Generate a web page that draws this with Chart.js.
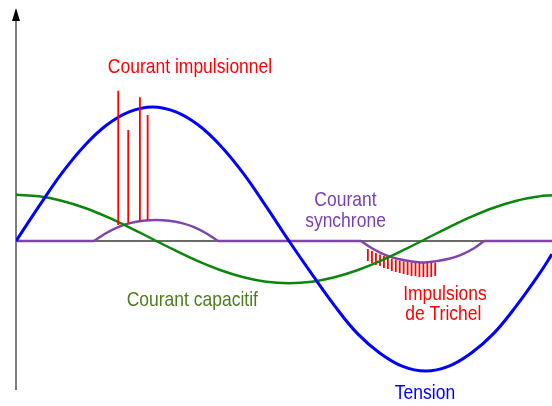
<!DOCTYPE html>
<html>
<head>
<meta charset="utf-8">
<script src="https://cdn.jsdelivr.net/npm/chart.js@4.4.1/dist/chart.umd.min.js"></script>
<style>
    html, body { margin: 0; padding: 0; background: #fff; }
    #wrap { width: 552px; height: 406px; }
</style>
</head>
<body>
<div id="wrap"><canvas id="myChart" width="552" height="406"></canvas></div>
<script>
// phase angle (degrees) along the horizontal axis
const phase = [0, 15, 30, 45, 60, 75, 90, 105, 120, 135, 150, 165, 180,
    195, 210, 225, 240, 255, 270, 285, 300, 315, 330, 345, 353.4];

// Tension (blue)
const tensionY = [0, 26, 51, 72, 88, 98, 101.5, 98, 88, 72, 51, 26, 0,
    -25, -49, -70, -85, -95, -98.5, -95, -85, -70, -49, -25, -10];

// Courant capacitif (green)
const capacitifY = [35, 33.8, 30.5, 25.2, 18.3, 10.2, 1.5, -7.2, -15.3, -22.2, -27.5, -30.9, -32,
    -30.9, -27.5, -22.2, -15.3, -7.2, 1.5, 10.2, 18.3, 25.2, 30.5, 33.8, 34.7];

// Courant synchrone (purple) - the two arcs, flat at 0 elsewhere
const synchroX = [51.4, 58.7, 67.3, 75.2, 83.7, 92.3, 100.9, 109.4, 117.4, 125.9, 133.2,
    227.5, 234.7, 243.3, 251.2, 259.8, 268.3, 276.9, 285.5, 293.4, 302, 308.6];
const synchroY = [0, 5.5, 10.5, 13.5, 15.3, 15.9, 15.3, 13.5, 10.5, 5.5, 0,
    0, -5.5, -10.5, -13.5, -15.3, -16.4, -15.3, -13.5, -10.5, -5.5, 0];

// Courant impulsionnel (red spikes)
const impulsX = [67.4, 74.0, 81.7, 86.8];
const impulsBase = [12.1, 13.6, 15.4, 15.9];
const impulsTop = [113.9, 84, 108.9, 95.5];

// Impulsions de Trichel (short red lines)
const trichelX = [232, 234.7, 237.3, 240, 242.6, 245.2, 247.8, 250.4, 253, 255.6,
    258.2, 260.8, 263.4, 266, 268.6, 271.2, 273.8, 276.4];
const trichelTop = [-6.1, -7.6, -9.1, -10.2, -11.4, -12.5, -13.6, -14.4, -15.2, -15.5,
    -15.9, -16.3, -16.7, -16.7, -16.7, -16.7, -16.7, -16.7];
const trichelBottom = [-15.2, -16.7, -18.2, -18.9, -20.5, -21.2, -22.7, -23.5, -24.2, -25,
    -25.8, -26.5, -26.5, -27.3, -27.3, -27.3, -27.3, -26.5];

const xMax = phase[phase.length - 1];

function curve(xs, ys) {
    return xs.map(function (x, i) { return { x: x, y: ys[i] }; });
}

// vertical strokes separated by gaps
function strokes(xs, lo, hi) {
    const pts = [];
    xs.forEach(function (x, i) {
        pts.push({ x: x, y: lo[i] }, { x: x, y: hi[i] }, { x: x, y: null });
    });
    return pts;
}

// arcs, with a gap where one arc ends and the next starts
const arcPts = [];
synchroX.forEach(function (x, i) {
    if (i > 0 && synchroY[i] === 0 && synchroY[i - 1] === 0) {
        arcPts.push({ x: (x + synchroX[i - 1]) / 2, y: null });
    }
    arcPts.push({ x: x, y: synchroY[i] });
});

// flat parts: 0 -> start1, end1 -> start2, end2 -> xMax
const zeros = synchroX.filter(function (x, i) { return synchroY[i] === 0; });
const bounds = [0].concat(zeros).concat([xMax]);
const flatSegs = [];
for (let i = 0; i < bounds.length; i += 2) {
    flatSegs.push({ x: bounds[i], y: 0 }, { x: bounds[i + 1], y: 0 }, { x: bounds[i + 1], y: null });
}

const labelPlugin = {
    id: 'labels',
    beforeDatasetsDraw: function (chart) {
        // axes with arrow
        const ctx = chart.ctx;
        const area = chart.chartArea;
        const x0 = chart.scales.x.getPixelForValue(0);
        const y0 = chart.scales.y.getPixelForValue(0);
        ctx.save();
        ctx.strokeStyle = '#3a3a3a';
        ctx.lineWidth = 1.3;
        ctx.beginPath();
        ctx.moveTo(x0, area.top + 12);
        ctx.lineTo(x0, area.bottom);
        ctx.moveTo(x0, y0);
        ctx.lineTo(area.right, y0);
        ctx.stroke();
        ctx.fillStyle = '#000';
        ctx.beginPath();
        ctx.moveTo(x0, area.top);
        ctx.lineTo(x0 - 4, area.top + 13);
        ctx.lineTo(x0 + 4, area.top + 13);
        ctx.closePath();
        ctx.fill();
        ctx.restore();
    },
    afterDraw: function (chart, args, opts) {
        const ctx = chart.ctx;
        ctx.save();
        ctx.font = '17.5px "Liberation Sans", Arial, sans-serif';
        ctx.textAlign = 'center';
        ctx.textBaseline = 'alphabetic';
        opts.items.forEach(function (it) {
            ctx.save();
            ctx.fillStyle = it.color;
            ctx.translate(it.x, it.y);
            ctx.scale(1, 1.15);
            ctx.fillText(it.text, 0, 0);
            ctx.restore();
        });
        ctx.restore();
    }
};

const ctx1 = document.getElementById('myChart').getContext('2d');
const config = {
    type: 'line',
    data: {
        datasets: [{
            label: 'Courant impulsionnel',
            data: strokes(impulsX, impulsBase, impulsTop),
            borderColor: '#ff0000',
            borderWidth: 1.8,
            tension: 0
        }, {
            label: 'Tension',
            data: curve(phase, tensionY),
            borderColor: '#0000ff',
            borderWidth: 3,
            tension: 0.4
        }, {
            label: 'Courant capacitif',
            data: curve(phase, capacitifY),
            borderColor: '#0a870a',
            borderWidth: 2.5,
            tension: 0.4
        }, {
            label: 'Courant synchrone',
            data: arcPts,
            borderColor: '#7f45a8',
            borderWidth: 2.5,
            cubicInterpolationMode: 'monotone'
        }, {
            label: 'Courant synchrone (0)',
            data: flatSegs,
            borderColor: '#7f45a8',
            borderWidth: 2.5,
            tension: 0
        }, {
            label: 'Impulsions de Trichel',
            data: strokes(trichelX, trichelTop, trichelBottom),
            borderColor: '#ff0000',
            borderWidth: 1.8,
            tension: 0
        }]
    },
    options: {
        responsive: false,
        animation: false,
        devicePixelRatio: 1,
        layout: { padding: { left: 16, right: 0, top: 8, bottom: 16 } },
        elements: { point: { radius: 0 } },
        scales: {
            x: { type: 'linear', min: 0, max: xMax, display: false },
            y: { type: 'linear', min: -112.9, max: 176.5, display: false }
        },
        plugins: {
            legend: { display: false },
            tooltip: { enabled: false },
            labels: {
                items: [
                    { text: 'Courant impulsionnel', x: 190, y: 72.5, color: '#ff0000' },
                    { text: 'Courant', x: 345.5, y: 206, color: '#7a40b0' },
                    { text: 'synchrone', x: 345.5, y: 226.5, color: '#7a40b0' },
                    { text: 'Courant capacitif', x: 192.3, y: 306, color: '#4b7d1f' },
                    { text: 'Impulsions', x: 445, y: 300, color: '#ff0000' },
                    { text: 'de Trichel', x: 443.3, y: 320, color: '#ff0000' },
                    { text: 'Tension', x: 425, y: 399, color: '#0000ff' }
                ]
            }
        }
    },
    plugins: [labelPlugin]
};
const myChart = new Chart(ctx1, config);
</script>
</body>
</html>
